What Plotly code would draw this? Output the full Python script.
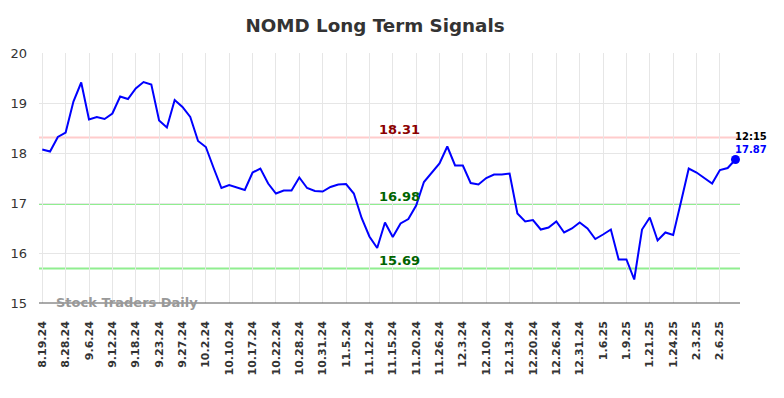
import plotly.graph_objects as go

title = "NOMD Long Term Signals"

dates = ["8.19.24", "8.22.24", "8.26.24", "8.28.24", "8.30.24", "9.4.24", "9.6.24", "9.9.24", "9.11.24", "9.12.24",
         "9.13.24", "9.17.24", "9.18.24", "9.19.24", "9.20.24", "9.23.24", "9.25.24", "9.26.24", "9.27.24", "9.30.24",
         "10.1.24", "10.2.24", "10.4.24", "10.8.24", "10.10.24", "10.14.24", "10.16.24", "10.17.24", "10.18.24", "10.21.24",
         "10.22.24", "10.23.24", "10.25.24", "10.28.24", "10.29.24", "10.30.24", "10.31.24", "11.1.24", "11.4.24", "11.5.24",
         "11.7.24", "11.8.24", "11.12.24", "11.13.24", "11.14.24", "11.15.24", "11.18.24", "11.19.24", "11.20.24", "11.21.24",
         "11.25.24", "11.26.24", "11.27.24", "12.2.24", "12.3.24", "12.5.24", "12.9.24", "12.10.24", "12.11.24", "12.12.24",
         "12.13.24", "12.17.24", "12.18.24", "12.20.24", "12.23.24", "12.24.24", "12.26.24", "12.27.24", "12.30.24", "12.31.24",
         "1.2.25", "1.3.25", "1.6.25", "1.7.25", "1.8.25", "1.9.25", "1.13.25", "1.17.25", "1.21.25", "1.22.25",
         "1.23.25", "1.24.25", "1.28.25", "1.30.25", "2.3.25", "2.4.25", "2.5.25", "2.6.25", "2.7.25", "2.10.25"]

prices = [18.07, 18.03, 18.32, 18.41, 19.03, 19.41, 18.67, 18.72, 18.68, 18.79,
          19.13, 19.08, 19.29, 19.42, 19.37, 18.65, 18.51, 19.06, 18.92, 18.72,
          18.24, 18.12, 17.70, 17.30, 17.36, 17.31, 17.26, 17.61, 17.69, 17.39,
          17.19, 17.25, 17.25, 17.51, 17.30, 17.24, 17.23, 17.32, 17.37, 17.38,
          17.19, 16.70, 16.33, 16.10, 16.61, 16.32, 16.59, 16.68, 16.95, 17.42,
          17.61, 17.79, 18.13, 17.75, 17.75, 17.40, 17.37, 17.50, 17.57, 17.57,
          17.59, 16.79, 16.63, 16.66, 16.47, 16.51, 16.63, 16.41, 16.49, 16.61,
          16.49, 16.28, 16.37, 16.47, 15.87, 15.87, 15.47, 16.47, 16.71, 16.25,
          16.41, 16.36, 17.02, 17.69, 17.61, 17.50, 17.39, 17.66, 17.70, 17.87]

tick_labels = dates[::3]

resistance = 18.31
support_levels = [16.98, 15.69]
last_time = "12:15"

y_ticks = [15, 16, 17, 18, 19, 20]

FONT = "DejaVu Sans"

fig = go.Figure()

fig.add_trace(go.Scatter(
    x=dates, y=prices, mode="lines",
    line=dict(color="#0000ff", width=2),
    hoverinfo="skip", showlegend=False,
))
fig.add_trace(go.Scatter(
    x=[dates[-1]], y=[prices[-1]], mode="markers",
    marker=dict(color="#0000ff", size=9),
    hoverinfo="skip", showlegend=False,
))

shapes = [dict(type="line", xref="paper", x0=0, x1=1, yref="y", y0=resistance, y1=resistance,
               line=dict(color="#ffcccc", width=2), layer="below")]
for s in support_levels:
    shapes.append(dict(type="line", xref="paper", x0=0, x1=1, yref="y", y0=s, y1=s,
                       line=dict(color="#90ee90", width=2), layer="below"))
shapes.append(dict(type="line", xref="paper", x0=0, x1=1, yref="paper", y0=0, y1=0,
                   line=dict(color="#555555", width=1)))

annotations = [
    dict(text=f"{resistance:.2f}", xref="paper", x=0.514, yref="y", y=resistance, yshift=8,
         showarrow=False, font=dict(family=FONT, size=13, color="#8b0000", weight="bold")),
]
for s in support_levels:
    annotations.append(dict(text=f"{s:.2f}", xref="paper", x=0.514, yref="y", y=s, yshift=8,
                            showarrow=False, font=dict(family=FONT, size=13, color="#006400", weight="bold")))
annotations.append(dict(text=last_time, xref="x", x=dates[-1], yref="y", y=prices[-1], xanchor="left",
                        yshift=23, xshift=-2, showarrow=False,
                        font=dict(family=FONT, size=10, color="#000000", weight="bold")))
annotations.append(dict(text=f"{prices[-1]:.2f}", xref="x", x=dates[-1], yref="y", y=prices[-1], xanchor="left",
                        yshift=10, xshift=-2, showarrow=False,
                        font=dict(family=FONT, size=10, color="#0000ff", weight="bold")))
annotations.append(dict(text="Stock Traders Daily", xref="paper", x=0.021, xanchor="left",
                        yref="y", y=15, yshift=1, showarrow=False,
                        font=dict(family=FONT, size=13, color="#999999", weight="bold")))

fig.update_layout(
    width=776, height=390,
    margin=dict(l=31, r=44, t=45, b=95),
    paper_bgcolor="white", plot_bgcolor="white",
    title=dict(text=title, x=0.473, xanchor="center", y=0.955, yanchor="middle",
               font=dict(family=FONT, size=18.3, color="#333333", weight="bold")),
    xaxis=dict(type="category", range=[-0.42, 89.58], tickmode="array", tickvals=tick_labels,
               ticktext=tick_labels, tickangle=-90, showgrid=True, gridcolor="#e6e6e6", gridwidth=1,
               tickfont=dict(family=FONT, size=11, color="#333333", weight="bold"),
               showline=False, zeroline=False, ticks="", ticklabelstandoff=15, automargin=False),
    yaxis=dict(range=[15, 20], tickvals=y_ticks, showgrid=True, gridcolor="#e6e6e6", gridwidth=1,
               tickfont=dict(family=FONT, size=13, color="#333333"), zeroline=False, ticks="",
               ticklabelstandoff=11, automargin=False),
    shapes=shapes, annotations=annotations,
)

fig.write_html("out.html")
